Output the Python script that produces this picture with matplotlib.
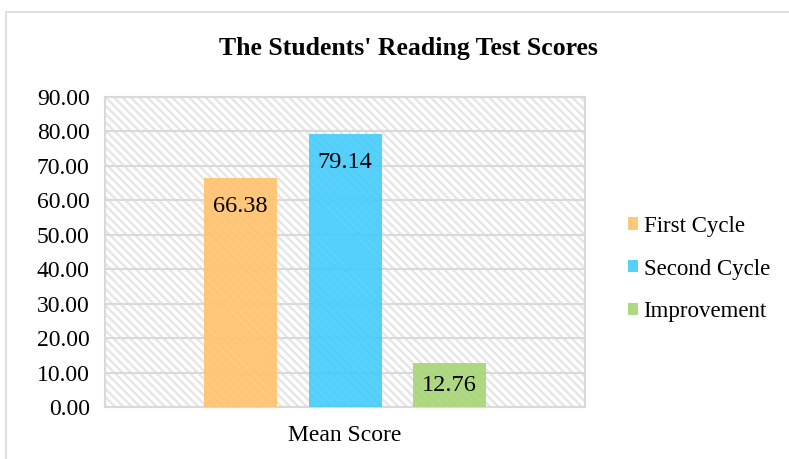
import numpy as np
import matplotlib.pyplot as plt
from matplotlib.patches import Rectangle

series = ['First Cycle', 'Second Cycle', 'Improvement']
scores = [66.38, 79.14, 12.76]
category = 'Mean Score'
colors = ['#FFC36E', '#48CDFB', '#A8D577']

plt.rcParams['font.family'] = ['Liberation Serif', 'DejaVu Serif']
plt.rcParams['hatch.color'] = '#e6e6e6'
plt.rcParams['hatch.linewidth'] = 1.8

fig = plt.figure(figsize=(7.89, 4.59), dpi=100)
ax = fig.add_axes([105 / 789, 1 - 407 / 459, 480 / 789, 310 / 459])

# outer chart border
fig.patches.append(Rectangle((6 / 789, -0.05), 1.1, 1 - 12 / 459 + 0.05,
                             transform=fig.transFigure, fill=False,
                             edgecolor='#d9d9d9', linewidth=1.2))

# hatched plot area
ax.patch.set_visible(False)
ax.add_patch(Rectangle((0, 0), 1, 1, transform=ax.transAxes, facecolor='white',
                       edgecolor='#e6e6e6', hatch='\\\\\\\\', linewidth=0, zorder=0))

width = 73 / 480
step = 104.5 / 480
pos = (np.arange(len(series)) - 1) * step
for p, v, c, name in zip(pos, scores, colors, series):
    ax.bar(p, v, width=width, color=c, alpha=0.92, label=name, zorder=3)
    ty = max(v - 8.1, v / 2)
    ax.text(p, ty, f'{v:.2f}', ha='center', va='center', fontsize=17.5, zorder=4)

ax.set_xlim(-0.5, 0.5)
ax.set_ylim(0, 90)
ax.set_yticks(np.arange(0, 91, 10))
ax.set_yticklabels([f'{t:.2f}' for t in np.arange(0, 91, 10)], fontsize=17)
ax.set_xticks([0])
ax.set_xticklabels([category], fontsize=17)
ax.tick_params(length=0)
ax.tick_params(axis='y', pad=11)
ax.tick_params(axis='x', pad=13)
ax.grid(axis='y', color='#d9d9d9', linewidth=1.5, zorder=1)
ax.set_axisbelow(True)
for s in ax.spines.values():
    s.set_color('#d9d9d9')
    s.set_linewidth(1.5)

fig.text(408 / 789, 1 - 48 / 459, "The Students' Reading Test Scores",
         ha='center', va='center', fontsize=18.5, fontweight='bold')

leg = fig.legend(loc='center left', bbox_to_anchor=(607 / 789, 1 - 269 / 459),
                 frameon=False, fontsize=16.5, handlelength=0.45, handleheight=0.45,
                 handletextpad=0.25, labelspacing=0.95)

fig.savefig('out.png', dpi=100)
